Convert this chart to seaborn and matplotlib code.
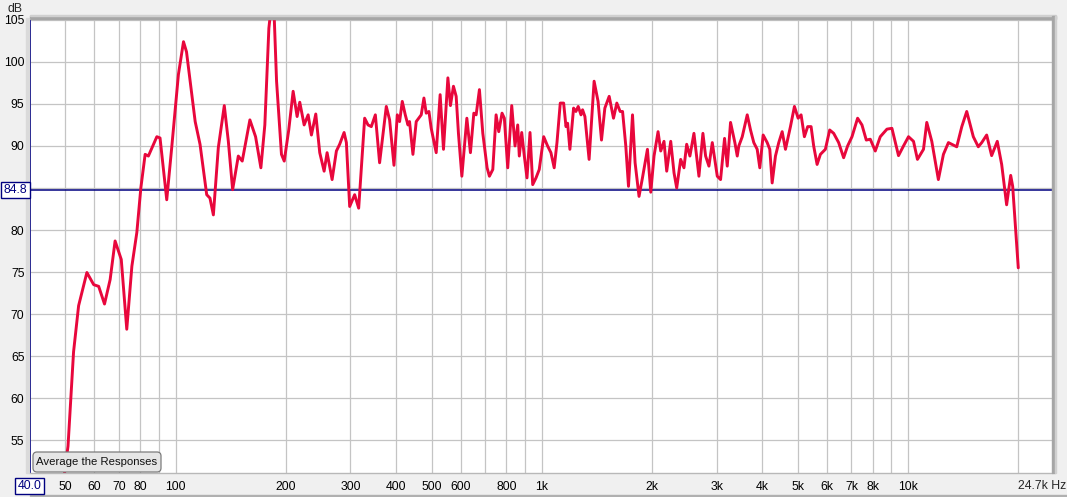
import numpy as np
import pandas as pd
import matplotlib
matplotlib.use("Agg")
import matplotlib.pyplot as plt
from matplotlib.patches import FancyBboxPatch, Rectangle
from matplotlib.transforms import IdentityTransform
import seaborn as sns

# frequency response
freq_hz = [49.6, 50.8, 52.6, 54.3, 57.2, 59.7, 61.6, 63.9, 66.2, 68.3, 71.0, 73.5, 75.9, 78.3,
           80.3, 82.5, 84.2, 88.8, 90.6, 94.5, 97.5, 101.7, 105, 107, 113, 116.5, 121.5, 124,
           126.7, 130.7, 135.7, 139.2, 143, 148.2, 151.9, 159.4, 165.2, 170.8, 175.1, 179.6,
           182.7, 185.5, 188.5, 194.4, 197.8, 203.5, 209.2, 214.5, 218.1, 224.2, 229.9, 234.7,
           241.2, 247.3, 254.2, 259, 267.3, 274.6, 280.3, 288.2, 292.4, 298.5, 308, 315.9, 328,
           335, 342, 350.8, 360.3, 375.8, 383.7, 394.4, 402.7, 408.6, 415.5, 423.4, 430.6,
           434.9, 444.3, 453.6, 468.1, 476.1, 483, 491.3, 498.4, 514.3, 527.2, 538.4, 553.5,
           562.5, 573.2, 583.1, 591.5, 604.3, 623.6, 637.8, 651.6, 661.1, 674.9, 689.4, 708.3,
           718.6, 734.1, 749.5, 762.1, 778, 789.4, 806.4, 826.9, 844.2, 858.6, 867.2, 880.5,
           895, 910.2, 927.6, 943.5, 963.2, 983.1, 1011, 1036, 1058, 1080, 1099, 1122, 1146,
           1163, 1175, 1192, 1220, 1238, 1256, 1278, 1291, 1310, 1345, 1388, 1423, 1454, 1485,
           1526, 1568, 1601, 1635, 1660, 1694, 1723, 1767, 1796, 1841, 1881, 1941, 1982, 2023,
           2075, 2110, 2154, 2191, 2247, 2294, 2333, 2392, 2442, 2484, 2535, 2600, 2683, 2751,
           2798, 2857, 2918, 3011, 3074, 3152, 3206, 3273, 3363, 3414, 3448, 3523, 3635, 3711,
           3788, 3870, 3934, 4018, 4121, 4189, 4252, 4341, 4432, 4528, 4623, 4770, 4891, 5006,
           5100, 5207, 5316, 5431, 5520, 5640, 5758, 5941, 6105, 6260, 6459, 6664, 6833, 7024,
           7276, 7478, 7684, 7880, 8131, 8390, 8750, 9028, 9410, 9710, 10020, 10340, 10600,
           11010, 11240, 11600, 12090, 12480, 12880, 13570, 14010, 14450, 15060, 15540, 15880,
           16380, 16900, 17510, 18000, 18570, 19050, 19290, 19980]
spl_db = [50.8, 54.3, 65.5, 71.0, 74.95, 73.5, 73.3, 71.2, 74.1, 78.7, 76.5, 68.2, 75.7, 79.7,
          85.0, 89.0, 88.8, 91.1, 90.95, 83.6, 89.8, 98.5, 102.4, 101.2, 92.9, 90.2, 84.2, 83.8,
          81.8, 89.8, 94.8, 90.55, 84.8, 88.8, 88.2, 93.1, 91.1, 87.4, 92.5, 104,
          107, 106, 97.7, 89.0, 88.2, 91.9, 96.5, 93.5, 95.2, 92.5, 93.7, 91.3,
          93.8, 89.2, 87.0, 89.2, 86.0, 89.4, 90.2, 91.6, 90.4, 82.8, 84.2, 82.6, 93.3,
          92.5, 92.3, 93.7, 88.0, 94.7, 93.1, 87.7, 93.7, 92.9, 95.3, 93.7, 92.5,
          92.9, 89.0, 92.9, 93.7, 95.7, 93.9, 94.1, 92.1, 89.2, 96.1, 89.6, 98.1,
          94.8, 97.1, 95.9, 91.5, 86.4, 93.3, 89.2, 93.9, 93.7, 96.7, 91.5, 87.4,
          86.4, 87.2, 93.7, 91.7, 93.9, 93.3, 87.4, 94.8, 90.0, 92.5, 88.8, 91.6,
          88.8, 86.2, 91.6, 85.4, 86.2, 87.2, 91.1, 90.0, 89.2, 87.4, 90.4, 95.1, 95.1,
          92.3, 92.7, 89.6, 94.5, 94.1, 94.7, 93.7, 94.3, 93.5, 88.4, 97.7, 95.3, 90.7, 94.5,
          95.9, 93.3, 95.1, 94.1, 94.1, 90.0, 85.2, 93.7, 88.0, 84.0, 86.2, 89.6, 84.5, 88.8,
          91.7, 89.4, 90.55, 87.0, 90.55, 86.8, 85.0, 88.4, 87.4, 90.2, 88.8, 91.5, 86.4, 91.5,
          88.8, 87.6, 90.4, 86.4, 86.0, 90.9, 87.6, 92.8, 90.4, 88.8, 90.0, 91.1, 93.7, 91.9,
          90.4, 89.6, 87.4, 91.3, 90.4, 89.6, 85.6, 88.8, 90.4, 91.7, 89.6, 92.3, 94.7, 93.3,
          93.7, 91.1, 92.3, 92.3, 90.0, 87.8, 89.0, 89.6, 91.9, 91.5, 90.4, 88.6, 90.0, 91.1,
          93.3, 92.5, 90.7, 90.8, 89.4, 91.1, 92.0, 92.1, 88.85, 90.0, 91.1, 90.55, 88.4,
          89.6, 92.8, 90.55, 86.0, 89.0, 90.4, 89.9, 92.3, 94.1, 91.1, 89.9, 90.4,
          91.3, 88.85, 90.55, 87.8, 83.0, 86.5, 85.2, 75.5]

cursor_db = 84.8
x_ticks = [50, 60, 70, 80, 100, 200, 300, 400, 500, 600, 800, 1000, 2000, 3000, 4000,
           5000, 6000, 7000, 8000, 10000]
x_tick_labels = ["50", "60", "70", "80", "100", "200", "300", "400", "500", "600", "800",
                 "1k", "2k", "3k", "4k", "5k", "6k", "7k", "8k", "10k"]
x_extra_grid = [90, 700, 900, 9000, 20000]
y_ticks = [55, 60, 65, 70, 75, 80, 85, 90, 95, 100, 105]
# the 85 label sits under the cursor readout box in the original
y_tick_labels = ["55", "60", "65", "70", "75", "80", "", "90", "95", "100", "105"]

df = pd.DataFrame({"freq": freq_hz, "spl": spl_db})

sns.set_theme(style="white")
plt.rcParams["font.family"] = ["Liberation Sans", "DejaVu Sans"]

W, H = 1067, 497
navy = "#000080"
fs = 8.8
fig = plt.figure(figsize=(W / 100, H / 100), dpi=100, facecolor="#f0f0f0")
ax = fig.add_axes([30 / W, 1 - 473 / H, (1052 - 30) / W, (473 - 19) / H])
ax.set_facecolor("white")

sns.lineplot(data=df, x="freq", y="spl", ax=ax, color="#e8073c", linewidth=2.1,
             estimator=None, sort=False, zorder=5)
ax.axhline(cursor_db, color=navy, linewidth=1.1, zorder=4)

ax.set_xscale("log")
ax.set_xlim(40, 24700)
ax.set_ylim(51.1, 105.1)
ax.set_xticks(x_ticks)
ax.set_xticklabels(x_tick_labels)
ax.set_xticks(x_extra_grid, minor=True)
ax.set_xticklabels([], minor=True)
ax.set_yticks(y_ticks)
ax.set_yticklabels(y_tick_labels)
ax.grid(True, which="both", color="#c4c4c4", linewidth=0.9)
ax.set_axisbelow(True)
ax.tick_params(axis="both", which="both", length=0, labelsize=fs, colors="black")
ax.tick_params(axis="x", pad=6)
ax.tick_params(axis="y", pad=4)
ax.set_xlabel("")
ax.set_ylabel("")

for side in ["top", "right"]:
    ax.spines[side].set_visible(False)
ax.spines["left"].set_color(navy)
ax.spines["left"].set_linewidth(1.4)
ax.spines["bottom"].set_color("#b8b8b8")
ax.spines["bottom"].set_linewidth(1.0)

# window frame shading (pixel coordinates, origin bottom-left)
ident = IdentityTransform()
fig.patches.append(Rectangle((30, H - 19), 1026, 3, transform=ident, color="#a6a6a6", zorder=0))
fig.patches.append(Rectangle((30, H - 16), 1026, 1, transform=ident, color="#d0d0d0", zorder=0))
fig.patches.append(Rectangle((1052, H - 473), 3, 457, transform=ident, color="#a6a6a6", zorder=0))
fig.patches.append(Rectangle((1055, H - 473), 1, 457, transform=ident, color="#d0d0d0", zorder=0))
fig.patches.append(Rectangle((26, H - 473), 3, 455, transform=ident, color="#dadada", zorder=0))
fig.patches.append(Rectangle((30, 1), 1037, 1, transform=ident, color="#b0b0b0", zorder=0))

fig.text(15 / W, 1 - 9 / H, "dB", ha="center", va="center", fontsize=fs)
fig.text(1066 / W, 1 - 486 / H, "24.7k Hz", ha="right", va="center", fontsize=fs)

box = dict(boxstyle="square,pad=0.18", facecolor="white", edgecolor=navy, linewidth=1.0)
fig.text(15.5 / W, 1 - 190 / H, f"{cursor_db:.1f}", ha="center", va="center",
         fontsize=fs, color=navy, bbox=box)
fig.text(29.5 / W, 1 - 486 / H, "40.0", ha="center", va="center",
         fontsize=fs, color=navy, bbox=box)

# "Average the Responses" button
fig.patches.append(FancyBboxPatch((33, H - 472), 128, 20, transform=ident,
                                  boxstyle="round,pad=0,rounding_size=4",
                                  facecolor="#e6e6e6", edgecolor="#7c7c7c",
                                  linewidth=0.9, zorder=10))
fig.text(97 / W, 1 - 462 / H, "Average the Responses", ha="center", va="center",
         fontsize=8.2, color="#111111", zorder=11)

fig.savefig("out.png", dpi=100, facecolor=fig.get_facecolor())
